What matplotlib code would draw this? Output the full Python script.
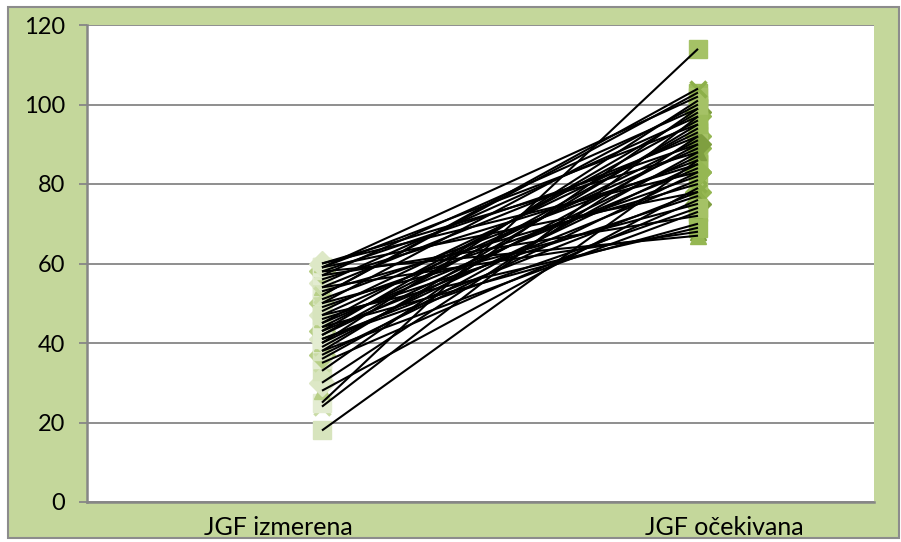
import matplotlib
matplotlib.use("Agg")
import matplotlib.pyplot as plt
from matplotlib.patches import Rectangle

# Measured and expected values (one line per subject)
izmerena = [18, 24, 25, 28, 30, 33, 35, 36, 37, 38, 38, 39, 40, 40, 41, 42, 42, 43,
            43, 44, 44, 45, 45, 46, 47, 48, 49, 50, 50, 51, 52, 53, 54, 54, 55, 56,
            57, 57, 58, 58, 59, 59, 59, 60, 60, 47, 52, 41]
ocekivana = [86, 97, 114, 79, 92, 99, 76, 88, 83, 95, 73, 90, 85, 101, 78, 94, 87, 81,
             98, 70, 91, 84, 96, 77, 89, 93, 82, 100, 75, 86, 103, 80, 92, 68, 97, 85,
             72, 99, 90, 67, 95, 78, 102, 88, 83, 69, 104, 74]
categories = ["JGF izmerena", "JGF očekivana"]
y_ticks = [0, 20, 40, 60, 80, 100, 120]

W, H = 901, 542
fig = plt.figure(figsize=(W / 100, H / 100), dpi=100)
fig.patch.set_facecolor("white")
fig.patches.append(Rectangle((8 / W, 4 / H), 891 / W, 531 / H,
                             transform=fig.transFigure, facecolor="#c4d79b",
                             edgecolor="#8c8c8c", linewidth=1.5, zorder=-5))

ax_left, ax_right, ax_top, ax_bot = 87, 874, 25, 502
ax = fig.add_axes([ax_left / W, 1 - ax_bot / H, (ax_right - ax_left) / W,
                   (ax_bot - ax_top) / H])
ax.set_zorder(2)
ax.set_facecolor("white")

px = lambda x: (x - ax_left) / (ax_right - ax_left)
xL, xR = px(322), px(698)

markers = ["s", "x", "s", "^", "D", "s", "x", "s", "D", "^"]
light = ["#d7e4bd", "#c9dba5", "#e3ecd1", "#b8cf88", "#dde8c6"]
dark = ["#9bbb59", "#8db04a", "#a5c266", "#7f9f40", "#95b752"]

for i, (a, b) in enumerate(zip(izmerena, ocekivana)):
    m = markers[i % len(markers)]
    ms = 13 if m in ("s", "D") else 11
    mew = 2.5 if m == "x" else 1
    ax.plot([xL], [a], marker=m, ms=ms, color=light[i % len(light)],
            mec=light[i % len(light)], mew=mew, ls="none", zorder=2)
    ax.plot([xR], [b], marker=m, ms=ms, color=dark[i % len(dark)],
            mec=dark[i % len(dark)], mew=mew, ls="none", zorder=2)
for a, b in zip(izmerena, ocekivana):
    ax.plot([xL, xR], [a, b], color="black", lw=1.5, zorder=3,
            solid_capstyle="butt")

ax.set_xlim(0, 1)
ax.set_ylim(0, 120)
ax.set_yticks(y_ticks)
ax.set_yticklabels([str(v) for v in y_ticks])
ax.yaxis.grid(True, color="#868686", lw=1.3)
ax.set_axisbelow(True)
ax.set_xticks([px(278), px(724)])
ax.set_xticklabels(categories)

for s in ("top", "right"):
    ax.spines[s].set_visible(False)
for s in ("left", "bottom"):
    ax.spines[s].set_color("#868686")
    ax.spines[s].set_linewidth(1.8)

font = ["Lato", "DejaVu Sans"]
ax.tick_params(axis="y", length=6, width=1.3, color="#868686", pad=10,
               labelsize=17)
ax.tick_params(axis="x", length=0, pad=10, labelsize=18)
for lab in ax.get_xticklabels() + ax.get_yticklabels():
    lab.set_family(font)
    lab.set_color("black")

fig.savefig("out.png", dpi=100, facecolor=fig.get_facecolor())
